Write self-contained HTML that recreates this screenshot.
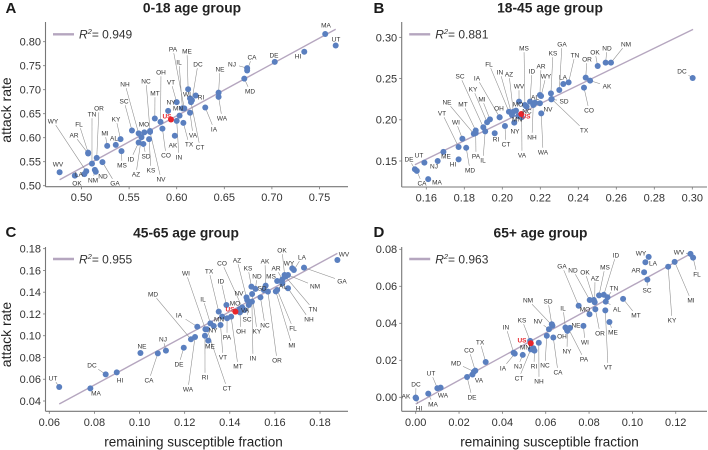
<!DOCTYPE html>
<html lang="en">
<head>
<meta charset="utf-8">
<title>Attack rate vs remaining susceptible fraction</title>
<style>
html,body{margin:0;padding:0;background:#fff;width:708px;height:450px;overflow:hidden}
svg{display:block;font-family:"Liberation Sans",sans-serif}
</style>
</head>
<body>
<svg id="chart" xmlns="http://www.w3.org/2000/svg" width="708" height="450" viewBox="0 0 708 450"></svg>
<script>
/* ---------- Panel A data ---------- */
const statesA = ["WV","LA","OK","NM","ND","GA","WY","AR","FL","TN","OR","MI","KY","AL","MS","SC","NH","ID","AZ","MO","SD","KS","NV","NC","MT","OH","CO","NY","VT","AK","IN","TX","VA","CT","PA","IL","ME","WI","DC","RI","MN","IA","NE","WA","NJ","CA","MD","DE","HI","MA","UT","US"];
const susceptibleA = [.477,.503,.493,.514,.515,.522,.505,.507,.507,.511,.516,.527,.541,.536,.542,.553,.560,.560,.563,.566,.565,.571,.572,.572,.577,.583,.585,.591,.600,.598,.600,.607,.614,.615,.608,.606,.612,.614,.616,.620,.603,.630,.644,.644,.674,.674,.671,.703,.734,.756,.767,.594];
const attackA = [.528,.524,.521,.533,.529,.549,.530,.567,.569,.546,.558,.583,.597,.585,.572,.615,.609,.590,.601,.611,.587,.597,.612,.614,.640,.633,.619,.656,.674,.604,.635,.631,.652,.674,.661,.661,.701,.682,.678,.688,.646,.663,.694,.685,.745,.740,.723,.758,.779,.816,.792,.638];
const fitXA = [.477,.767];
const fitYA = [.5125,.826];
const xTicksA = ["0.50","0.55","0.60","0.65","0.70","0.75"];
const yTicksA = ["0.50","0.55","0.60","0.65","0.70","0.75","0.80"];

/* ---------- Panel B data ---------- */
const statesB = ["DE","CA","MA","UT","NJ","ME","HI","VT","WI","MD","NE","MT","PA","IL","SC","KY","MI","IA","OH","RI","CT","FL","IN","AZ","NY","WV","MO","MN","MS","VA","NC","ID","AL","NH","AR","WY","NV","WA","KS","GA","LA","TN","SD","TX","OR","OK","ND","NM","AK","CO","DC","US"];
const susceptibleB = [.154,.155,.161,.159,.166,.169,.177,.177,.179,.181,.185,.186,.186,.191,.190,.192,.1935,.1986,.1986,.196,.2014,.2035,.2051,.2058,.2063,.2088,.2072,.2084,.2119,.2102,.2128,.2146,.2172,.2163,.2198,.2204,.2198,.2205,.2256,.23,.2321,.2349,.2258,.226,.2439,.2502,.2544,.2572,.2462,.243,.3002,.21];
const attackB = [.140,.138,.128,.148,.150,.161,.152,.167,.177,.166,.183,.187,.184,.186,.191,.197,.2005,.203,.203,.1836,.1925,.2098,.2058,.2098,.1965,.222,.2111,.2046,.2179,.203,.2159,.222,.2208,.2179,.2301,.2288,.22,.2078,.2321,.2361,.2434,.2454,.2248,.2252,.2511,.2652,.2693,.2693,.2475,.239,.2507,.207];
const fitXB = [.154,.3004];
const fitYB = [.1455,.3097];
const xTicksB = ["0.16","0.18","0.20","0.22","0.24","0.26","0.28","0.30"];
const yTicksB = ["0.15","0.20","0.25","0.30"];

/* ---------- Panel C data ---------- */
const statesC = ["UT","MA","DC","HI","NE","CA","NJ","DE","MD","WA","IA","WI","IL","RI","ME","CT","MN","NY","VT","TX","PA","MT","ID","CO","MO","VA","SC","OH","NV","AZ","KS","ND","KY","IN","NC","SD","AK","OR","MS","AR","OK","WY","LA","AL","MI","FL","NH","TN","NM","GA","WV","US"];
const susceptibleC = [.0644,.0782,.085,.0899,.1004,.1081,.1117,.1196,.1228,.1246,.1256,.1292,.1314,.129,.1305,.1299,.1366,.1329,.1359,.1351,.1388,.1406,.1385,.1455,.1443,.1465,.1484,.1445,.1477,.1474,.1496,.1514,.1499,.1498,.1536,.1551,.1559,.1569,.161,.1633,.1643,.1677,.1684,.1633,.1604,.161,.1658,.1647,.1658,.1729,.1877,.1425];
const attackC = [.0529,.0516,.0645,.0663,.0841,.0838,.0863,.089,.0967,.0988,.1083,.1059,.1114,.1,.0955,.1059,.1175,.1089,.1099,.1221,.116,.1175,.1282,.1261,.1243,.1236,.1282,.1215,.1328,.1353,.1451,.143,.1383,.1313,.1353,.142,.146,.1405,.1503,.1518,.1558,.1619,.1604,.1481,.1408,.142,.1436,.1543,.1558,.1626,.1696,.1221];
const fitXC = [.0644,.1877];
const fitYC = [.0372,.1757];
const xTicksC = ["0.06","0.08","0.10","0.12","0.14","0.16","0.18"];
const yTicksC = ["0.04","0.06","0.08","0.10","0.12","0.14","0.16","0.18"];

/* ---------- Panel D data ---------- */
const statesD = ["AK","HI","DC","MA","UT","WA","DE","VA","MD","CO","TX","IN","IA","NJ","CT","KS","MN","RI","NH","NC","CA","NV","NM","SD","IL","OH","NY","PA","NE","WI","MO","GA","ND","OK","AZ","MS","ID","TN","AL","OR","ME","VT","MT","SC","AR","LA","WY","KY","MI","WV","FL","US"];
const susceptibleD = [0,.0002,0,.0058,.01,.0115,.0237,.0262,.0269,.0275,.0323,.0452,.0457,.0494,.0531,.0528,.0543,.0548,.0568,.0605,.0635,.0615,.0631,.0628,.0691,.0698,.07,.0705,.0712,.0774,.0802,.0752,.0803,.0822,.0826,.0846,.0868,.0885,.0877,.0829,.0894,.0875,.0957,.1069,.1054,.106,.1075,.1165,.1195,.1268,.128,.0531];
const attackD = [-.0002,-.0006,-.0002,.002,.0049,.0052,.011,.0123,.0139,.0144,.0191,.0241,.0236,.0229,.0259,.0305,.0265,.0252,.0295,.0333,.0323,.0368,.0387,.0395,.0377,.0365,.0359,.0371,.0375,.0386,.0449,.0495,.0526,.0526,.0514,.0551,.0554,.0541,.0517,.0476,.0407,.047,.0532,.0636,.0676,.073,.0759,.0706,.0732,.0775,.0755,.0292];
const fitXD = [0,.1272];
const fitYD = [-.0036,.0778];
const xTicksD = ["0.00","0.02","0.04","0.06","0.08","0.10","0.12"];
const yTicksD = ["0.00","0.02","0.04","0.06","0.08"];

/* ---------- Annotation layout (not data): where each state label sits ---------- */
const labelLayoutA = {WV:[58,164],LA:[79,174],OK:[77,183],NM:[93,180],ND:[103,176],GA:[115,183],WY:[53,121],AR:[74,135],FL:[79,124],TN:[92,114],OR:[99,108],MI:[105,133],KY:[116,119],AL:[114,138],MS:[122,165],SC:[124,101],NH:[125,84],ID:[131,159],AZ:[136,174],MO:[144,124],SD:[146,156],KS:[151,170],NV:[161,179],NC:[146,81],MT:[155,93],OH:[161,72],CO:[166,155],US:[167,116],NY:[171,102],VT:[171,82],AK:[173,145],IN:[179,157],TX:[189,144],VA:[193,135],CT:[200,147],PA:[173,49],IL:[179,62],ME:[187,51],DC:[198,64],WI:[187,94],RI:[201,97],MN:[178,108],IA:[214,129],NE:[220,69],WA:[222,118],NJ:[232,64],CA:[252,57],MD:[250,91],DE:[274,55],HI:[298,56],MA:[326,25],UT:[336,39]};
const labelLayoutB = {DE:[409,159],CA:[422,183],MA:[437,182],UT:[419,155],NJ:[434,166],ME:[446,156],HI:[453,164],VT:[442,113],WI:[456,122],MD:[470,170],NE:[447,102],MT:[463,104],PA:[476,156],IL:[483,160],SC:[460,76],KY:[473,89],MI:[482,99],IA:[477,78],OH:[499,108],RI:[496,139],CT:[506,144],FL:[489,64],IN:[500,72],AZ:[509,74],NY:[515,131],WV:[519,86],MO:[518,104],MN:[517,119],MS:[524,48],VA:[522,155],US:[526,116],NC:[527,111],ID:[532,71],AL:[535,97],NH:[532,137],AR:[541,66],WY:[546,76],NV:[548,109],WA:[543,152],KS:[553,53],GA:[562,44],LA:[563,77],TN:[575,55],SD:[564,101],TX:[584,130],OR:[587,59],OK:[595,52],ND:[607,48],NM:[626,44],AK:[607,86],CO:[589,110],DC:[682,71]};
const labelLayoutC = {UT:[53,378],MA:[96,393],DC:[92,365],HI:[120,380],NE:[142,346],CA:[149,380],NJ:[163,339],DE:[179,364],MD:[153,294],WA:[188,389],IA:[179,315],WI:[186,273],IL:[203,299],RI:[205,377],ME:[210,346],CT:[227,388],MN:[219,319],NY:[213,330],VT:[223,357],TX:[209,271],PA:[227,337],MT:[238,366],ID:[221,281],CO:[222,263],MO:[235,303],US:[230,309],VA:[245,310],SC:[247,319],OH:[241,331],NV:[239,293],AZ:[237,260],KS:[248,268],ND:[257,276],KY:[257,331],IN:[253,358],NC:[265,325],SD:[262,288],AK:[265,261],OR:[277,360],MS:[271,276],AR:[276,268],OK:[282,250],WY:[289,263],LA:[302,257],AL:[283,286],MI:[292,345],FL:[293,328],NH:[309,319],TN:[313,309],NM:[315,286],GA:[342,281],WV:[344,254]};
const labelLayoutD = {AK:[406,396],HI:[419,408],DC:[416,384],MA:[433,404],UT:[431,373],WA:[443,395],DE:[472,397],VA:[479,380],MD:[456,363],CO:[469,350],TX:[480,342],IN:[506,327],IA:[503,368],NJ:[518,366],CT:[519,378],KS:[522,320],US:[522,340],MN:[525,347],RI:[534,366],NH:[539,381],NC:[545,365],CA:[558,372],NV:[538,321],NM:[528,300],SD:[548,301],IL:[563,308],OH:[562,336],NY:[567,351],PA:[584,359],NE:[576,325],WI:[585,342],MO:[585,309],GA:[562,266],ND:[573,270],OK:[585,272],AZ:[595,278],MS:[605,267],ID:[616,255],TN:[614,288],AL:[617,309],OR:[600,333],ME:[613,332],VT:[608,367],MT:[636,315],SC:[647,290],AR:[636,270],LA:[653,263],WY:[641,253],KY:[672,320],MI:[691,300],WV:[679,252],FL:[697,274]};

const NS = "http://www.w3.org/2000/svg";
const svg = document.getElementById("chart");

function mk(tag, geometry, parent, text) {
  const el = document.createElementNS(NS, tag);
  Object.keys(geometry).forEach(function (k) { el.setAttribute(k, geometry[k]); });
  if (text !== undefined) el.textContent = text;
  parent.appendChild(el);
  return el;
}

function drawPanel(p) {
  const g = mk("g", {}, svg);
  
  

  const xScale = function (v) { return p.x0 + (v - p.xv0) * p.xk; };
  const yScale = function (v) { return p.y0 - (v - p.yv0) * p.yk; };

  const letter = mk("text", {x: p.letterX, y: p.letterY, "font-size": 15, "font-weight": "bold", fill: "#1a1a1a"}, g, p.letter);
  
  

  const title = mk("text", {x: p.titleX, y: p.titleY, "font-size": 13.8, "font-weight": "bold", fill: "#222", "text-anchor": "middle"}, g, p.title);
  
  

  const yAxis = mk("line", {x1: p.axisX, x2: p.axisX, y1: p.axisTop, y2: p.axisY, stroke: "#777", "stroke-width": 1.1}, g);
  
  

  const xAxis = mk("line", {x1: p.axisX, x2: p.axisRight, y1: p.axisY, y2: p.axisY, stroke: "#777", "stroke-width": 1.1}, g);
  
  

  p.xTicks.forEach(function (t) {
    const v = parseFloat(t);
    const tick = mk("line", {x1: xScale(v), x2: xScale(v), y1: p.axisY, y2: p.axisY + 2.5, stroke: "#777", "stroke-width": 0.8}, g);
    
    
    const lab = mk("text", {x: xScale(v), y: p.axisY + 14.5, "font-size": 11, fill: "#333", "text-anchor": "middle"}, g, t);
    
    
  });

  p.yTicks.forEach(function (t) {
    const v = parseFloat(t);
    const tick = mk("line", {x1: p.axisX - 2.5, x2: p.axisX, y1: yScale(v), y2: yScale(v), stroke: "#777", "stroke-width": 0.8}, g);
    
    
    const lab = mk("text", {x: p.axisX - 4.5, y: yScale(v) + 3.9, "font-size": 11, fill: "#333", "text-anchor": "end"}, g, t);
    
    
  });

  const fit = mk("line", {x1: xScale(p.fitX[0]), y1: yScale(p.fitY[0]), x2: xScale(p.fitX[1]), y2: yScale(p.fitY[1]), stroke: "#b5a6bf", "stroke-width": 1.4}, g);
  
  

  const legendLine = mk("line", {x1: p.axisX + 7.5, x2: p.axisX + 28.5, y1: p.legendY, y2: p.legendY, stroke: "#b5a6bf", "stroke-width": 2.4}, g);
  
  

  const legendText = mk("text", {x: p.axisX + 33.5, y: p.legendY + 4.4, "font-size": 12, fill: "#333"}, g);
  
  
  mk("tspan", {"font-style": "italic"}, legendText, "R");
  mk("tspan", {"font-size": 7.5, dy: -4.5, "font-style": "italic"}, legendText, "2");
  mk("tspan", {dy: 4.5}, legendText, "= " + p.r2);

  /* leader lines */
  p.states.forEach(function (s, i) {
    const at = p.labels[s];
    if (!at || s === "US") return;
    const px = xScale(p.xs[i]), py = yScale(p.ys[i]);
    const dx = px - at[0], dy = py - at[1];
    const dist = Math.sqrt(dx * dx + dy * dy);
    if (dist < 10) return;
    const exit = Math.min(dx === 0 ? 1 : 7 / Math.abs(dx), dy === 0 ? 1 : 4.2 / Math.abs(dy));
    if (exit >= 1) return;
    const leader = mk("line", {x1: at[0] + dx * exit, y1: at[1] + dy * exit, x2: px, y2: py, stroke: "#8a8a8a", "stroke-width": 0.55}, g);
    
    
  });

  /* points: US drawn last, on top */
  p.states.forEach(function (s, i) {
    if (s === "US") return;
    const dot = mk("circle", {cx: xScale(p.xs[i]), cy: yScale(p.ys[i]), r: 3, fill: "#5a7fbf"}, g);
    
    
  });
  p.states.forEach(function (s, i) {
    if (s !== "US") return;
    const dot = mk("circle", {cx: xScale(p.xs[i]), cy: yScale(p.ys[i]), r: 3, fill: "#e8252c"}, g);
    
    
  });

  /* state labels */
  p.states.forEach(function (s) {
    const at = p.labels[s];
    if (!at) return;
    const isUS = s === "US";
    const lab = mk("text", {x: at[0], y: at[1] + 2.3, "font-size": 6.5, "font-weight": isUS ? "bold" : "normal", fill: isUS ? "#e8252c" : "#333", "text-anchor": "middle"}, g, s);
    
    
  });
}

drawPanel({letter: "A", title: "0-18 age group", r2: "0.949", letterX: 5.5, letterY: 13, titleX: 192, titleY: 12.5,
  states: statesA, xs: susceptibleA, ys: attackA, fitX: fitXA, fitY: fitYA, xTicks: xTicksA, yTicks: yTicksA, labels: labelLayoutA,
  x0: 81.5, xv0: .50, xk: 952, y0: 185.7, yv0: .50, yk: 480, axisX: 45.5, axisY: 186.7, axisTop: 22, axisRight: 348, legendY: 34.3});

drawPanel({letter: "B", title: "18-45 age group", r2: "0.881", letterX: 373.5, letterY: 13, titleX: 550, titleY: 12.5,
  states: statesB, xs: susceptibleB, ys: attackB, fitX: fitXB, fitY: fitYB, xTicks: xTicksB, yTicks: yTicksB, labels: labelLayoutB,
  x0: 426.3, xv0: .16, xk: 1900, y0: 161, yv0: .15, yk: 824.3, axisX: 401.7, axisY: 187, axisTop: 22, axisRight: 707, legendY: 34.3});

drawPanel({letter: "C", title: "45-65 age group", r2: "0.955", letterX: 5.5, letterY: 237, titleX: 186, titleY: 237.5,
  states: statesC, xs: susceptibleC, ys: attackC, fitX: fitXC, fitY: fitYC, xTicks: xTicksC, yTicks: yTicksC, labels: labelLayoutC,
  x0: 49.3, xv0: .06, xk: 2256, y0: 401, yv0: .04, yk: 1088, axisX: 45.5, axisY: 411.3, axisTop: 247, axisRight: 348, legendY: 259});

drawPanel({letter: "D", title: "65+ age group", r2: "0.963", letterX: 373.5, letterY: 237, titleX: 540.5, titleY: 237.5,
  states: statesD, xs: susceptibleD, ys: attackD, fitX: fitXD, fitY: fitYD, xTicks: xTicksD, yTicks: yTicksD, labels: labelLayoutD,
  x0: 415.7, xv0: 0, xk: 2167, y0: 397.3, yv0: 0, yk: 1850, axisX: 401.7, axisY: 411.3, axisTop: 247, axisRight: 707, legendY: 259});

/* axis titles */
const yTitleTop = mk("text", {transform: "translate(11,110) rotate(-90)", "font-size": 14, fill: "#222", "text-anchor": "middle"}, svg, "attack rate");



const yTitleBottom = mk("text", {transform: "translate(11,334.5) rotate(-90)", "font-size": 14, fill: "#222", "text-anchor": "middle"}, svg, "attack rate");



const xTitleLeft = mk("text", {x: 193.5, y: 446.5, "font-size": 13.5, fill: "#222", "text-anchor": "middle"}, svg, "remaining susceptible fraction");



const xTitleRight = mk("text", {x: 549.5, y: 446.5, "font-size": 13.5, fill: "#222", "text-anchor": "middle"}, svg, "remaining susceptible fraction");


</script>
</body>
</html>
